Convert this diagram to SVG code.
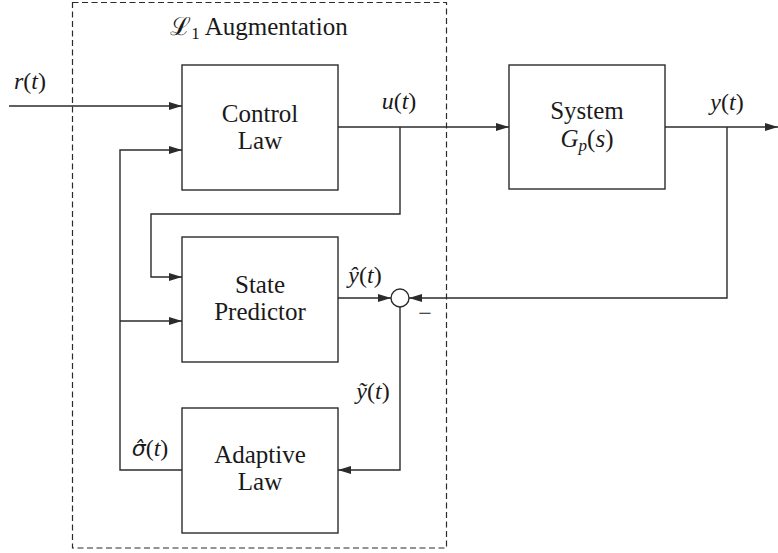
<svg xmlns="http://www.w3.org/2000/svg" width="778" height="553" viewBox="0 0 778 553">
<style>
  .box{fill:#fff;stroke:#2b2b2b;stroke-width:1.4}
  .wire{fill:none;stroke:#2b2b2b;stroke-width:1.4}
  .dash{fill:none;stroke:#2b2b2b;stroke-width:1.2;stroke-dasharray:6 3.5}
  .t{font-family:'Liberation Serif','DejaVu Serif',serif;fill:#1a1a1a}
  .lbl{font-size:25px;text-anchor:middle}
  .math{font-size:24px;text-anchor:middle}
  .it{font-style:italic}
</style>
<defs>
  <marker id="arr" viewBox="0 0 13 8" refX="13" refY="4" markerWidth="13" markerHeight="8" markerUnits="userSpaceOnUse" orient="auto">
    <path d="M0,0 L13,4 L0,8 z" fill="#2b2b2b"/>
  </marker>
</defs>
<rect width="778" height="553" fill="#fff"/>

<g id="augmentation">
  <rect class="dash" x="72.5" y="2.5" width="374" height="545.5"/>
  <text class="t math" x="259" y="35" style="font-size:25px">ℒ<tspan style="font-size:17px" dy="4">1</tspan><tspan dy="-4"> Augmentation</tspan></text>
</g>

<g id="connectors">
  <path class="wire" d="M9,106 H182" marker-end="url(#arr)"/>
  <path class="wire" d="M338,127 H509" marker-end="url(#arr)"/>
  <path class="wire" d="M400,127 V214 H151 V277 H182" marker-end="url(#arr)"/>
  <path class="wire" d="M665,127 H778" marker-end="url(#arr)"/>
  <path class="wire" d="M727,127 V298 H409" marker-end="url(#arr)"/>
  <path class="wire" d="M338,298 H391" marker-end="url(#arr)"/>
  <path class="wire" d="M400,307 V470 H338" marker-end="url(#arr)"/>
  <path class="wire" d="M182,470 H120 V150 H182" marker-end="url(#arr)"/>
  <path class="wire" d="M120,321 H182" marker-end="url(#arr)"/>
</g>

<g id="control-law">
  <rect class="box" x="182" y="65" width="156" height="125"/>
  <text class="t lbl" x="260" y="122">Control</text>
  <text class="t lbl" x="260" y="149">Law</text>
</g>

<g id="system">
  <rect class="box" x="509" y="65" width="156" height="124"/>
  <text class="t lbl" x="587" y="119">System</text>
  <text class="t lbl" x="587" y="147"><tspan class="it">G</tspan><tspan class="it" style="font-size:17px" dy="4">p</tspan><tspan dy="-4">(</tspan><tspan class="it">s</tspan>)</text>
</g>

<g id="state-predictor">
  <rect class="box" x="182" y="237" width="156" height="125"/>
  <text class="t lbl" x="260" y="293">State</text>
  <text class="t lbl" x="260" y="320">Predictor</text>
</g>

<g id="adaptive-law">
  <rect class="box" x="182" y="408" width="156" height="125"/>
  <text class="t lbl" x="260" y="463">Adaptive</text>
  <text class="t lbl" x="260" y="490">Law</text>
</g>

<g id="sum">
  <circle class="box" cx="400" cy="298" r="9"/>
  <text class="t math" x="425" y="321">−</text>
</g>

<g id="labels">
  <text class="t math" x="30" y="89"><tspan class="it">r</tspan>(<tspan class="it">t</tspan>)</text>
  <text class="t math" x="399" y="109"><tspan class="it">u</tspan>(<tspan class="it">t</tspan>)</text>
  <text class="t math" x="727" y="110"><tspan class="it">y</tspan>(<tspan class="it">t</tspan>)</text>
  <text class="t math" x="365" y="283"><tspan class="it">ŷ</tspan>(<tspan class="it">t</tspan>)</text>
  <text class="t math" x="373" y="399"><tspan class="it">ỹ</tspan>(<tspan class="it">t</tspan>)</text>
  <text class="t math" x="150" y="456"><tspan class="it" style="font-family:'DejaVu Sans',sans-serif;font-size:22px">σ̂</tspan>(<tspan class="it">t</tspan>)</text>
</g>
</svg>
